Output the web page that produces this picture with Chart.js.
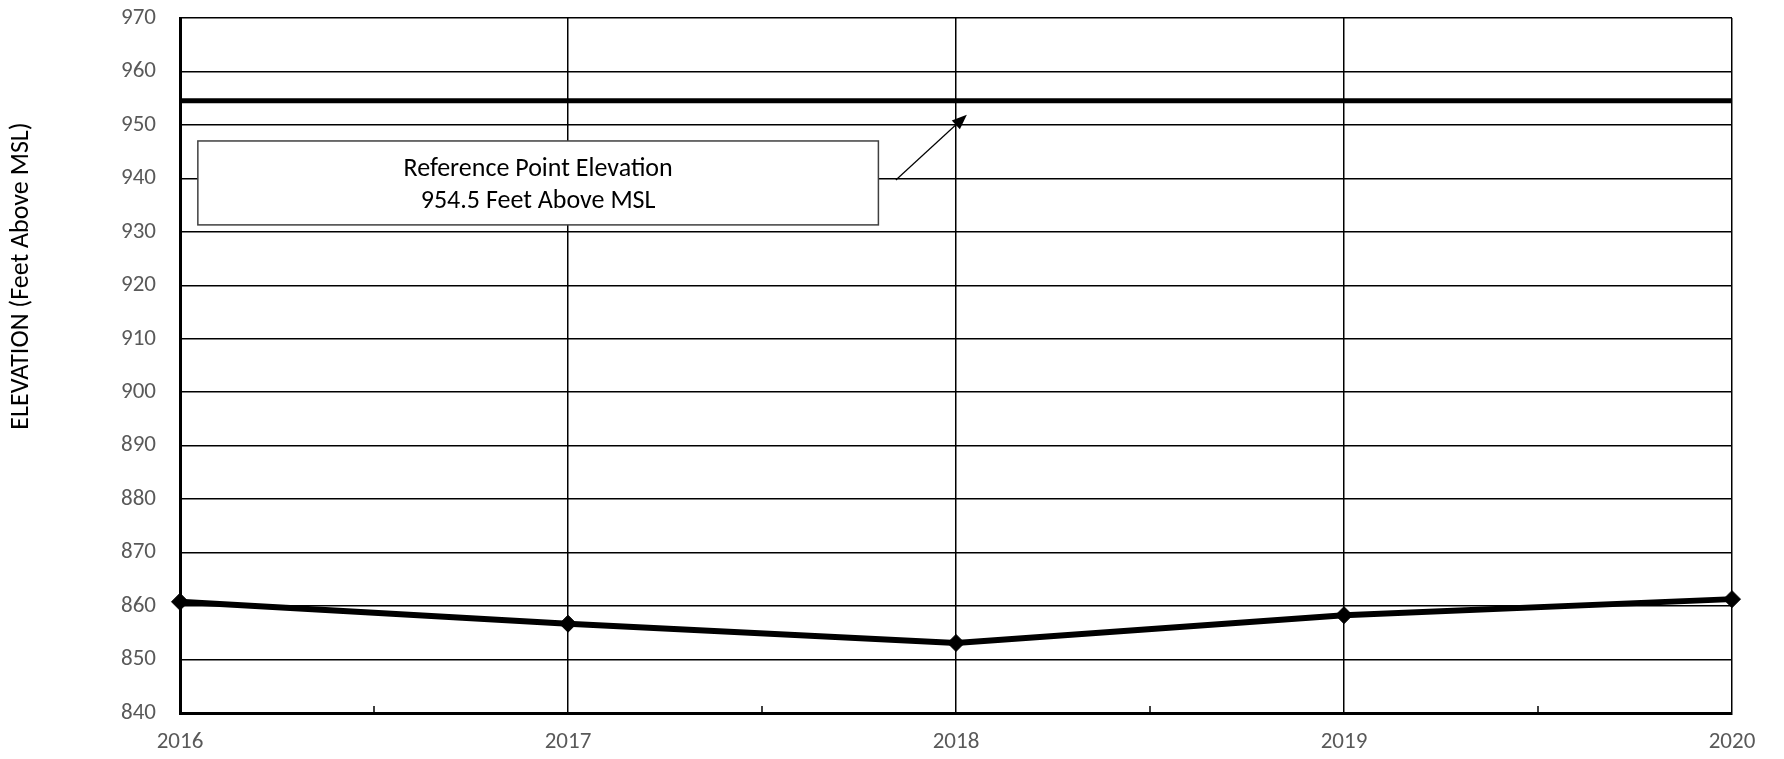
<!DOCTYPE html>
<html>
<head>
<meta charset="utf-8">
<script src="https://cdn.jsdelivr.net/npm/chart.js@4/dist/chart.umd.min.js"></script>
<style>
  html, body { margin: 0; padding: 0; background: #fff; }
  #wrap { width: 1784px; height: 759px; }
</style>
</head>
<body>
<div id="wrap"><canvas id="elevChart" width="1784" height="759"></canvas></div>
<script>
// values
const years = ['2016', '2017', '2018', '2019', '2020'];
const elevation = [860.8, 856.7, 853.1, 858.3, 861.3];
const referenceElevation = 954.5;
const yTicks = [840, 850, 860, 870, 880, 890, 900, 910, 920, 930, 940, 950, 960, 970];
const noteLines = ['Reference Point Elevation', '954.5 Feet Above MSL'];

const FONT = "'Carlito', 'Open Sans', sans-serif";
const GREY = '#595959';

// box + arrow pointing at the reference line, placed in data units
const note = {
    x0: 0.046, x1: 1.8, yTop: 947.0, yBot: 931.3,
    arrowFrom: [1.845, 939.7], arrowTo: [2.028, 951.9]
};

const extras = {
    id: 'extras',
    afterDatasetsDraw(chart) {
        const { ctx, scales: { x, y }, chartArea } = chart;
        ctx.save();

        // minor ticks between years, pointing up from the bottom axis
        ctx.strokeStyle = '#000';
        ctx.lineWidth = 1.5;
        for (let i = 0; i < years.length - 1; i++) {
            const px = (x.getPixelForValue(i) + x.getPixelForValue(i + 1)) / 2;
            ctx.beginPath();
            ctx.moveTo(px, chartArea.bottom);
            ctx.lineTo(px, chartArea.bottom - 7);
            ctx.stroke();
        }

        // note box
        const bx0 = x.getPixelForValue(note.x0), bx1 = x.getPixelForValue(note.x1);
        const by0 = y.getPixelForValue(note.yTop), by1 = y.getPixelForValue(note.yBot);
        ctx.fillStyle = '#fff';
        ctx.fillRect(bx0, by0, bx1 - bx0, by1 - by0);
        ctx.strokeStyle = '#404040';
        ctx.lineWidth = 1.5;
        ctx.strokeRect(bx0, by0, bx1 - bx0, by1 - by0);
        ctx.fillStyle = '#000';
        ctx.font = '26px ' + FONT;
        ctx.textAlign = 'center';
        ctx.textBaseline = 'middle';
        const cx = (bx0 + bx1) / 2, cy = (by0 + by1) / 2 + 3;
        ctx.fillText(noteLines[0], cx, cy - 16);
        ctx.fillText(noteLines[1], cx, cy + 16);

        // arrow
        const ax0 = x.getPixelForValue(note.arrowFrom[0]), ay0 = y.getPixelForValue(note.arrowFrom[1]);
        const ax1 = x.getPixelForValue(note.arrowTo[0]), ay1 = y.getPixelForValue(note.arrowTo[1]);
        const ang = Math.atan2(ay1 - ay0, ax1 - ax0);
        ctx.strokeStyle = '#000';
        ctx.lineWidth = 1.2;
        ctx.beginPath();
        ctx.moveTo(ax0, ay0);
        ctx.lineTo(ax1 - 10 * Math.cos(ang), ay1 - 10 * Math.sin(ang));
        ctx.stroke();
        ctx.fillStyle = '#000';
        ctx.beginPath();
        ctx.moveTo(ax1, ay1);
        ctx.lineTo(ax1 - 15 * Math.cos(ang) + 6 * Math.sin(ang), ay1 - 15 * Math.sin(ang) - 6 * Math.cos(ang));
        ctx.lineTo(ax1 - 15 * Math.cos(ang) - 6 * Math.sin(ang), ay1 - 15 * Math.sin(ang) + 6 * Math.cos(ang));
        ctx.closePath();
        ctx.fill();

        // y axis title
        ctx.translate(21, 276);
        ctx.rotate(-Math.PI / 2);
        ctx.fillStyle = '#000';
        ctx.font = '26px ' + FONT;
        ctx.textAlign = 'center';
        ctx.textBaseline = 'middle';
        ctx.fillText('ELEVATION (Feet Above MSL)', 0, 0);
        ctx.restore();
    }
};

new Chart('elevChart', {
    type: 'line',
    data: {
        labels: years,
        datasets: [{
            label: 'Reference Point',
            data: years.map(() => referenceElevation),
            borderColor: '#000',
            borderWidth: 5,
            pointRadius: 0,
            order: 2
        }, {
            label: 'Elevation',
            data: elevation,
            borderColor: '#000',
            backgroundColor: '#000',
            borderWidth: 6,
            pointStyle: 'rectRot',
            pointRadius: 8.5,
            pointBorderWidth: 1,
            tension: 0,
            order: 1
        }]
    },
    options: {
        responsive: false,
        animation: false,
        layout: { padding: { top: 18, right: 52, left: 0, bottom: 0 } },
        plugins: { legend: { display: false }, tooltip: { enabled: false } },
        scales: {
            x: {
                offset: false,
                grid: { color: '#000', lineWidth: 1.5, drawTicks: false },
                border: { color: '#000', width: 3 },
                ticks: { color: GREY, font: { family: FONT, size: 23 }, padding: 15, maxRotation: 0 },
                afterFit(scale) {
                    scale.height = 46;
                    scale.paddingLeft = 0;
                    scale.paddingRight = 0;
                }
            },
            y: {
                min: yTicks[0],
                max: yTicks[yTicks.length - 1],
                afterBuildTicks(scale) { scale.ticks = yTicks.map(v => ({ value: v })); },
                grid: { color: '#000', lineWidth: 1.5, drawTicks: false },
                border: { color: '#000', width: 3 },
                ticks: { color: GREY, font: { family: FONT, size: 23 }, padding: 24 },
                afterFit(scale) {
                    scale.width = 180;
                    scale.paddingTop = 0;
                    scale.paddingBottom = 0;
                }
            }
        }
    },
    plugins: [extras]
});
</script>
</body>
</html>
